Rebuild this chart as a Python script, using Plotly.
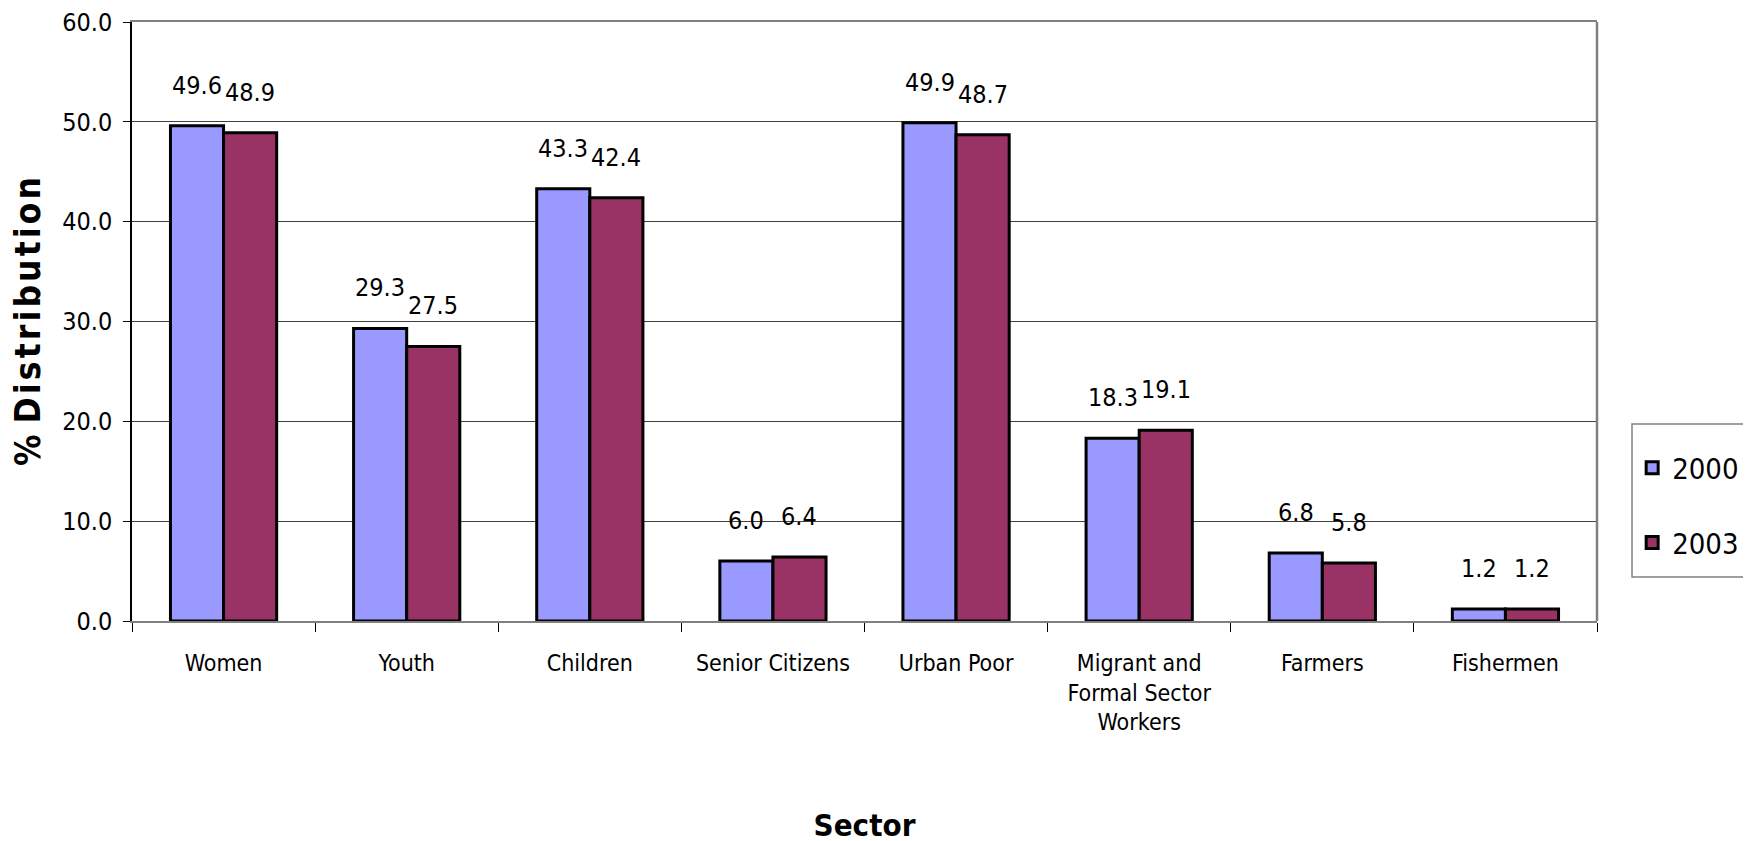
import plotly.graph_objects as go

FONT = "Liberation Sans Narrow, Arial Narrow, DejaVu Sans Condensed, sans-serif"

sectors = [
    "Women",
    "Youth",
    "Children",
    "Senior Citizens",
    "Urban Poor",
    "Migrant and<br>Formal Sector<br>Workers",
    "Farmers",
    "Fishermen",
]
years = ["2000", "2003"]
share_2000 = [49.6, 29.3, 43.3, 6.0, 49.9, 18.3, 6.8, 1.2]
share_2003 = [48.9, 27.5, 42.4, 6.4, 48.7, 19.1, 5.8, 1.2]
colors = ["#9999ff", "#993366"]

# page body adds 8px around the plot div
fig = go.Figure()
labels = []
for i, (year, vals) in enumerate(zip(years, [share_2000, share_2003])):
    fig.add_trace(
        go.Bar(
            name=year,
            x=sectors,
            y=vals,
            marker=dict(color=colors[i], line=dict(color="#000000", width=3)),
            legendgroup=year,
        )
    )
    # value labels sit ~30px above each bar, centred on it
    for s, v in zip(sectors, vals):
        labels.append(
            dict(
                x=s, y=v, xref="x", yref="y",
                text=f"{v:.1f}",
                showarrow=False,
                xshift=-26.5 if i == 0 else 26.5,
                yshift=24,
                yanchor="bottom",
                font=dict(family=FONT, size=25, color="#000000"),
            )
        )

fig.update_layout(
    width=1751,
    height=841,
    margin=dict(l=124, r=162, t=14, b=228),
    paper_bgcolor="#ffffff",
    plot_bgcolor="#ffffff",
    barmode="group",
    bargap=0.42,
    bargroupgap=0,
    font=dict(family=FONT, color="#000000"),
    showlegend=True,
    legend=dict(
        x=1.024,
        y=0.298,
        xanchor="left",
        yanchor="top",
        borderwidth=0,
        bgcolor="rgba(0,0,0,0)",
        font=dict(family=FONT, size=29, color="#000000"),
        tracegroupgap=34,
        traceorder="grouped",
        itemwidth=30,
    ),
    xaxis=dict(
        tickfont=dict(family=FONT, size=23, color="#000000"),
        tickson="boundaries",
        ticks="outside",
        ticklen=9,
        tickcolor="#000000",
        ticklabelstandoff=20,
        showline=True,
        linecolor="#808080",
        linewidth=2,
        mirror=True,
        showgrid=False,
        title=dict(text="<b>Sector</b>", font=dict(family=FONT, size=31), standoff=80),
    ),
    yaxis=dict(
        range=[0, 60],
        dtick=10,
        tickformat=".1f",
        tickfont=dict(family=FONT, size=25, color="#000000"),
        ticks="outside",
        ticklen=7,
        tickcolor="#000000",
        ticklabelstandoff=6,
        ticklabeloverflow="allow",
        automargin=False,
        showline=True,
        linecolor="#000000",
        linewidth=1.5,
        showgrid=True,
        gridcolor="#404040",
        gridwidth=1,
        zeroline=False,
        title=dict(
            text="<b>% D\u200ai\u200as\u200at\u200ar\u200ai\u200ab\u200au\u200at\u200ai\u200ao\u200an</b>",
            font=dict(family=FONT, size=35),
            standoff=22,
        ),
    ),
    annotations=labels,
    shapes=[
        dict(
            type="line", xref="paper", yref="paper", x0=1, x1=1, y0=0, y1=1,
            line=dict(color="#808080", width=2.5),
        ),
        dict(
            type="rect", xref="paper", yref="paper",
            x0=1.0239, x1=1.1038, y0=0.0735, y1=0.3289,
            line=dict(color="#808080", width=1.5),
        ),
    ],
)

fig.write_html("out.html")
